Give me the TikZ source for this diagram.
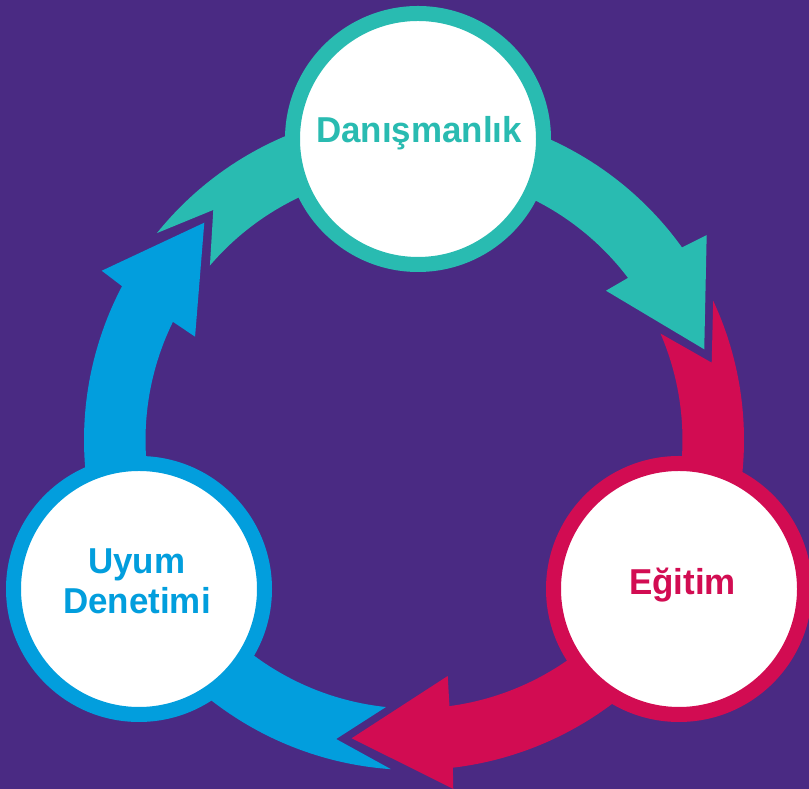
\documentclass[tikz,border=0pt]{standalone}
\usepackage{fontspec}
\setmainfont{Liberation Sans}
\definecolor{bgpurple}{HTML}{4A2A83}
\definecolor{tealA}{HTML}{29BBB1}
\definecolor{blueA}{HTML}{029EDD}
\definecolor{redA}{HTML}{D20C52}
\newcommand\lbltext[1]{\scalebox{0.97}[1]{#1}}
\begin{document}
\begin{tikzpicture}[x=1pt,y=1pt,
  ringnode/.style={circle, fill=white, line width=15pt, minimum size=251pt, inner sep=0pt},
  lbl/.style={font=\bfseries\fontsize{36}{40}\selectfont, anchor=base, inner sep=0pt}]
\fill[bgpurple] (0,0) rectangle (809,789);
\useasboundingbox (0,0) rectangle (809,789);
\coordinate (C) at (414,349);
\begin{scope}[shift={(C)}]
% teal arrow
\fill[tealA] (141.16:330) arc[start angle=141.16, end angle=35.7, radius=330]
  -- (35.0:357.3) -- (17.35:304.1) -- (37.87:243.2) -- (37.14:268.5)
  arc[start angle=37.14, end angle=139.47, radius=268.5] -- (131.1:305.3) -- cycle;
% red arrow
\fill[redA] (24.95:330) arc[start angle=24.95, end angle=-83.24, radius=330]
  -- (-83.58:351.2) -- (-101.8:304.7) -- (-81.87:238.4) -- (-82.41:268.5)
  arc[start angle=-82.41, end angle=23.36, radius=268.5] -- (14.56:307.6) -- cycle;
% blue arrow
\fill[blueA] (266.0:330) arc[start angle=266.0, end angle=152.22, radius=330]
  -- (151.54:355.2) -- (133.98:302) -- (154.74:242.1) -- (153.88:268.5)
  arc[start angle=153.88, end angle=264.0, radius=268.5] -- (255.4:309) -- cycle;
\end{scope}
\node[ringnode, draw=tealA] (top) at (418,650) {};
\node[ringnode, draw=redA] (right) at (679,200) {};
\node[ringnode, draw=blueA] (left) at (139,200) {};
\node[lbl, text=tealA] (ldan) at (419,646) {\lbltext{Danışmanlık}};
\node[lbl, text=redA] (legi) at (682.5,194.7) {\lbltext{Eğitim}};
\node[lbl, text=blueA] (luyum) at (136.6,215.7) {\lbltext{Uyum}};
\node[lbl, text=blueA] (lden) at (137,175.7) {\lbltext{Denetimi}};
\end{tikzpicture}
\end{document}
